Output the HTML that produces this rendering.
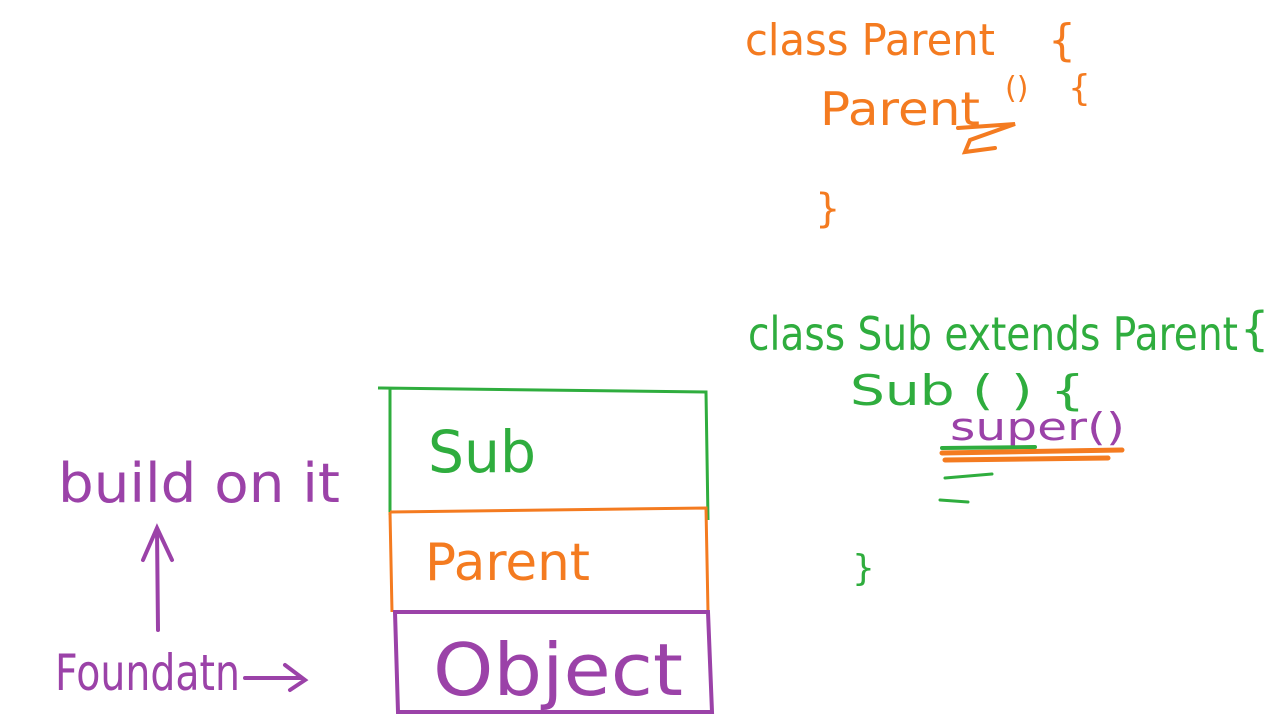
<!DOCTYPE html>
<html>
<head>
<meta charset="utf-8">
<style>
html,body{margin:0;padding:0;background:#fff;}
svg{display:block;}
text{font-family:"DejaVu Sans","Liberation Sans",sans-serif;font-weight:normal;}
</style>
</head>
<body>
<svg width="1283" height="722" viewBox="0 0 1283 722" xmlns="http://www.w3.org/2000/svg">
<rect width="1283" height="722" fill="#fff"/>
<g fill="#f47b20" stroke="none">
<text x="745" y="55" font-size="44" textLength="250" lengthAdjust="spacingAndGlyphs">class Parent</text>
<text x="1048" y="55" font-size="44">{</text>
<text x="820" y="125" font-size="46" textLength="160" lengthAdjust="spacingAndGlyphs">Parent</text>
<text x="1005" y="98" font-size="30">()</text>
<text x="1068" y="100" font-size="36">{</text>
<text x="815" y="222" font-size="40">}</text>
</g>
<path d="M958 128 L1015 124 L970 140 L965 152 L995 148" fill="none" stroke="#f47b20" stroke-width="4" stroke-linecap="round"/>
<g fill="#2fad3e">
<text x="748" y="350" font-size="46" textLength="490" lengthAdjust="spacingAndGlyphs">class Sub extends Parent</text>
<text x="1240" y="345" font-size="46">{</text>
<text x="850" y="405" font-size="42" textLength="235" lengthAdjust="spacingAndGlyphs">Sub ( ) {</text>
<text x="852" y="580" font-size="36">}</text>
</g>
<text x="950" y="440" font-size="38" fill="#9b42a8" textLength="175" lengthAdjust="spacingAndGlyphs">super()</text>
<path d="M942 448 L1035 447" stroke="#2fad3e" stroke-width="4" stroke-linecap="round" fill="none"/>
<path d="M942 453 L1122 450 M945 460 L1108 458" stroke="#f47b20" stroke-width="5" stroke-linecap="round" fill="none"/>
<path d="M945 478 L992 474 M940 500 L968 502" stroke="#2fad3e" stroke-width="3" stroke-linecap="round" fill="none"/>
<path d="M378 388 L706 392 L708 520 M390 388 L390 515" stroke="#2fad3e" stroke-width="3" fill="none"/>
<path d="M390 512 L706 508 L708 612 M390 512 L392 612" stroke="#f47b20" stroke-width="3" fill="none"/>
<path d="M395 612 L708 612 L712 712 L398 712 Z" stroke="#9b42a8" stroke-width="4" fill="none"/>
<text x="428" y="472" font-size="58" fill="#2fad3e" textLength="108" lengthAdjust="spacingAndGlyphs">Sub</text>
<text x="425" y="580" font-size="52" fill="#f47b20" textLength="165" lengthAdjust="spacingAndGlyphs">Parent</text>
<text x="433" y="695" font-size="72" fill="#9b42a8" textLength="250" lengthAdjust="spacingAndGlyphs">Object</text>
<text x="58" y="502" font-size="54" fill="#9b42a8" textLength="282" lengthAdjust="spacingAndGlyphs">build on it</text>
<path d="M158 630 L157 530 M143 560 L157 528 L172 560" stroke="#9b42a8" stroke-width="4" fill="none" stroke-linecap="round"/>
<text x="55" y="690" font-size="50" fill="#9b42a8" textLength="185" lengthAdjust="spacingAndGlyphs">Foundatn</text>
<path d="M245 678 L302 678 M285 665 L305 680 L290 690" stroke="#9b42a8" stroke-width="4" fill="none" stroke-linecap="round"/>
</svg>
</body>
</html>
